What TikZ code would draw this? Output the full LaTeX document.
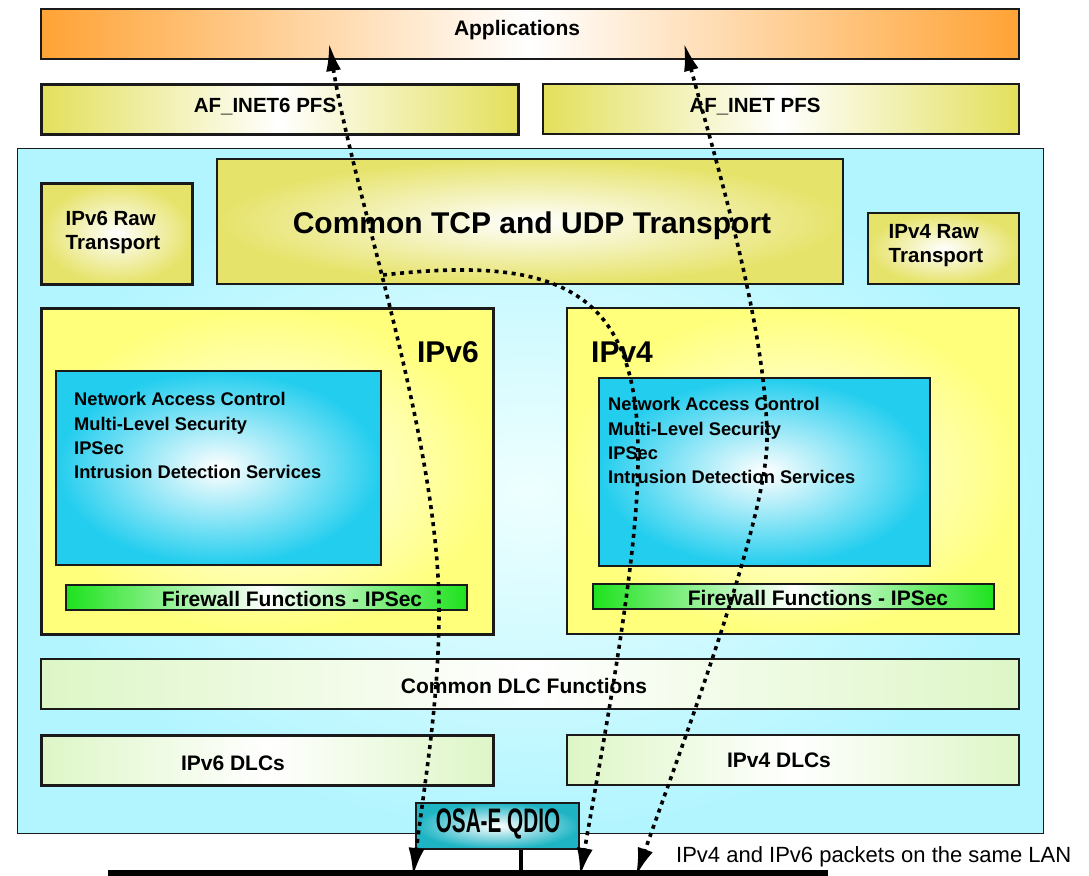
\documentclass[tikz,border=0pt]{standalone}
\usepackage{fontspec}
\setmainfont{Liberation Sans}
\usetikzlibrary{arrows.meta}
\definecolor{orgC}{HTML}{FFA335}
\definecolor{pfsY}{HTML}{E3E05C}
\definecolor{tcpY}{HTML}{E6E36A}
\definecolor{ipY}{HTML}{FFFF7C}
\definecolor{secC}{HTML}{22CDEE}
\definecolor{bgC}{HTML}{B2F5FF}
\definecolor{bgIn}{HTML}{EEFFFF}
\definecolor{dlcG}{HTML}{DDF6C6}
\definecolor{fwG}{HTML}{1EE21E}
\definecolor{qdC}{HTML}{1EB4C4}
\definecolor{edge}{HTML}{1A1A1A}
\begin{document}
\begin{tikzpicture}[x=1pt,y=-1pt,
  box/.style={draw=edge, line width=1.4pt, inner sep=0pt},
  thickbox/.style={box, line width=3pt},
  hsh/.style={left color=#1, right color=#1, middle color=white},
  rsh/.style={inner color=white, outer color=#1},
  lbl/.style={inner sep=0pt, font=\bfseries\fontsize{21}{24}\selectfont},
  biglbl/.style={inner sep=0pt, font=\bfseries\fontsize{30}{34}\selectfont},
  listlbl/.style={inner sep=0pt, align=left, font=\bfseries\fontsize{18.3}{24.3}\selectfont},
  flow/.style={line width=3.6pt, dash pattern=on 4pt off 4.6pt, black},
  bigtip/.style={arrows={-{Latex[length=30pt,width=16pt]}}}
]
\useasboundingbox (0,0) rectangle (1089,875);
\fill[white] (0,0) rectangle (1089,875);

% background
\node[draw=edge, line width=1pt, inner sep=0pt, inner color=bgIn, outer color=bgC,
      minimum width=1026, minimum height=685] (bg) at (530,490.5) {};

% top boxes
\node[box, hsh=orgC, minimum width=978, minimum height=50] (app) at (530,34) {};
\node[lbl] (appT) at (517,30) {Applications};
\node[thickbox, hsh=pfsY, minimum width=477, minimum height=50] (pfs6) at (279.5,109) {};
\node[lbl, font=\bfseries\fontsize{20.5}{24}\selectfont] (pfs6T) at (265,107) {AF\_INET6 PFS};
\node[box, hsh=pfsY, minimum width=476, minimum height=50] (pfs4) at (781,109) {};
\node[lbl, font=\bfseries\fontsize{20.5}{24}\selectfont] (pfs4T) at (755,107) {AF\_INET PFS};

% transport
\node[thickbox, rsh=tcpY, minimum width=151, minimum height=101] (raw6) at (116.5,233.5) {};
\node[lbl, align=left, font=\bfseries\fontsize{20.5}{24}\selectfont] (raw6T) at (113,232) {IPv6 Raw\\Transport};
\node[box, rsh=tcpY, minimum width=626, minimum height=125] (tcp) at (530,221.5) {};
\node[biglbl] (tcpT) at (532,226) {Common TCP and UDP Transport};
\node[box, rsh=tcpY, minimum width=151, minimum height=71] (raw4) at (943.5,248.5) {};
\node[lbl, align=left, font=\bfseries\fontsize{20.5}{24}\selectfont] (raw4T) at (936,246) {IPv4 Raw\\Transport};

% IPv6 stack
\node[thickbox, rsh=ipY, minimum width=452, minimum height=326] (ip6) at (267,471) {};
\node[biglbl, anchor=east] (ip6T) at (479,352) {IPv6};
\node[box, rsh=secC, minimum width=325, minimum height=194] (sec6) at (218.5,468) {};
\node[listlbl, anchor=north west] (sec6T) at (74,392.3) {Network Access Control\\Multi-Level Security\\IPSec\\Intrusion Detection Services};
\node[box, hsh=fwG, minimum width=401, minimum height=25] (fw6) at (266.5,597.5) {};
\node[lbl] (fw6T) at (292,599) {Firewall Functions - IPSec};

% IPv4 stack
\node[box, rsh=ipY, minimum width=452, minimum height=326] (ip4) at (793,471) {};
\node[biglbl, anchor=west] (ip4T) at (591,352) {IPv4};
\node[box, rsh=secC, minimum width=331, minimum height=188] (sec4) at (764.5,472) {};
\node[listlbl, anchor=north west] (sec4T) at (608,397.3) {Network Access Control\\Multi-Level Security\\IPSec\\Intrusion Detection Services};
\node[box, hsh=fwG, minimum width=401, minimum height=25] (fw4) at (793.5,596.5) {};
\node[lbl] (fw4T) at (818,598) {Firewall Functions - IPSec};

% DLC
\node[box, hsh=dlcG, minimum width=978, minimum height=50] (dlc) at (530,684) {};
\node[lbl] (dlcT) at (524,686) {Common DLC Functions};
\node[thickbox, hsh=dlcG, minimum width=452, minimum height=50] (dlc6) at (267,760) {};
\node[lbl] (dlc6T) at (233,763) {IPv6 DLCs};
\node[box, hsh=dlcG, minimum width=452, minimum height=50] (dlc4) at (793,760) {};
\node[lbl] (dlc4T) at (779,760) {IPv4 DLCs};

% OSA-E
\node[box, rsh=qdC, minimum width=163, minimum height=46] (qdio) at (497.5,826) {};
\node[inner sep=0pt, font=\bfseries\fontsize{34}{36}\selectfont] (qdioT) at (498,824) {\scalebox{0.61}[1]{OSA-E QDIO}};
\node[inner sep=0pt, anchor=west, font=\fontsize{22}{26}\selectfont] (lanT) at (676,857) {IPv4 and IPv6 packets on the same LAN};

% flows
\coordinate (L0) at (329,43);
\coordinate (L1) at (439,610);
\coordinate (L2) at (413,876);
\coordinate (R0) at (684,43);
\coordinate (R1) at (767,440);
\coordinate (R2) at (636,876);
\coordinate (M0) at (383,275);
\coordinate (M1) at (638,460);
\coordinate (M2) at (580,876);
\draw[flow, {Latex[length=28pt,width=15pt]}-{Latex[length=28pt,width=16pt]}] (L0) .. controls (355,200) and (439,440) .. (L1)
      .. controls (439,700) and (425,780) .. (L2);
\draw[flow, {Latex[length=28pt,width=15pt]}-{Latex[length=28pt,width=16pt]}] (R0) .. controls (717,165) and (767,330) .. (R1)
      .. controls (767,520) and (681,748) .. (R2);
\draw[flow, -{Latex[length=28pt,width=16pt]}] (M0) .. controls (560,255) and (640,290) .. (M1)
      .. controls (638,560) and (604,738) .. (M2);

% LAN
\coordinate (lanL) at (108,873);
\coordinate (lanR) at (828,873);
\draw[line width=7pt, black] (lanL) -- (lanR);
\coordinate (stub) at (521,870);
\draw[line width=3.5pt, black] (qdio.south -| stub) -- (stub);
\fill[white] (0,876.5) rectangle (1089,890);
\end{tikzpicture}
\end{document}
